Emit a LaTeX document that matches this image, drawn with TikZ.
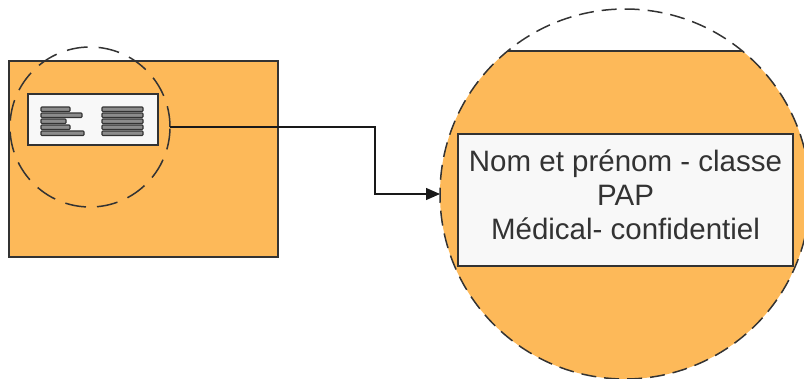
\documentclass[tikz,border=0pt]{standalone}
\usepackage{fontspec}
\setmainfont{Liberation Sans}
\definecolor{Enveloppe}{RGB}{253, 185, 89}
\definecolor{Trait}{RGB}{51, 51, 51}
\definecolor{Fond}{RGB}{248, 248, 248}
\definecolor{Barre}{RGB}{140, 140, 140}
\usetikzlibrary{arrows.meta, positioning, calc}

\begin{document}
\begin{tikzpicture}[x=1pt, y=-1pt,
    loupe/.style={circle, draw=Trait, line width=1.5pt, dash pattern=on 15pt off 8pt, outer sep=0pt, inner sep=0pt},
    etiquette/.style={rectangle, draw=Trait, fill=Fond, line width=1.4pt, outer sep=0pt, inner sep=0pt},
    barre/.style={draw=Trait, fill=Barre, line width=1.1pt, rounded corners=0.8pt},
    fleche/.style={draw=black!90, line width=1.3pt, -{Triangle[length=14pt, width=12pt]}}]
    \useasboundingbox (0,0) rectangle (804,378);
    % enveloppe
    \node[draw=Trait, fill=Enveloppe, line width=1.2pt, minimum width=269pt, minimum height=196pt, inner sep=0pt, outer sep=0pt] (enveloppe) at (143.5,159) {};
    \node[etiquette, minimum width=130pt, minimum height=51pt] (etiquette) at (93,119.5) {};
    % barres de texte
    \foreach \fin [count=\i from 0] in {70,82,66,70,84} {
        \draw[barre] (41,107+6*\i) rectangle (\fin,111.5+6*\i);
        \draw[barre] (102,107+6*\i) rectangle (143,111.5+6*\i);
    }
    \node[loupe, dash pattern=on 21pt off 11pt, minimum size=160pt] (loupe) at (90,127) {};
    % zoom
    \begin{scope}
        \clip (625,194) circle (185);
        \fill[Enveloppe] (430,51) rectangle (820,390);
    \end{scope}
    \draw[Trait, line width=1.5pt] (507.6,51) -- (742.4,51);
    \node[loupe, minimum size=370pt] (zoom) at (625,194) {};
    \node[etiquette, minimum width=335pt, minimum height=132pt] (cadre) at (625.5,200) {};
    \node[align=center, font=\fontsize{29.5}{34}\selectfont, text=Trait] (texte) at (625.5,194.5) {Nom et prénom - classe\\PAP\\Médical- confidentiel};
    % connecteur
    \coordinate (coude) at (375,127);
    \draw[fleche] (loupe.east) -- (coude) |- (zoom.west);
\end{tikzpicture}
\end{document}
